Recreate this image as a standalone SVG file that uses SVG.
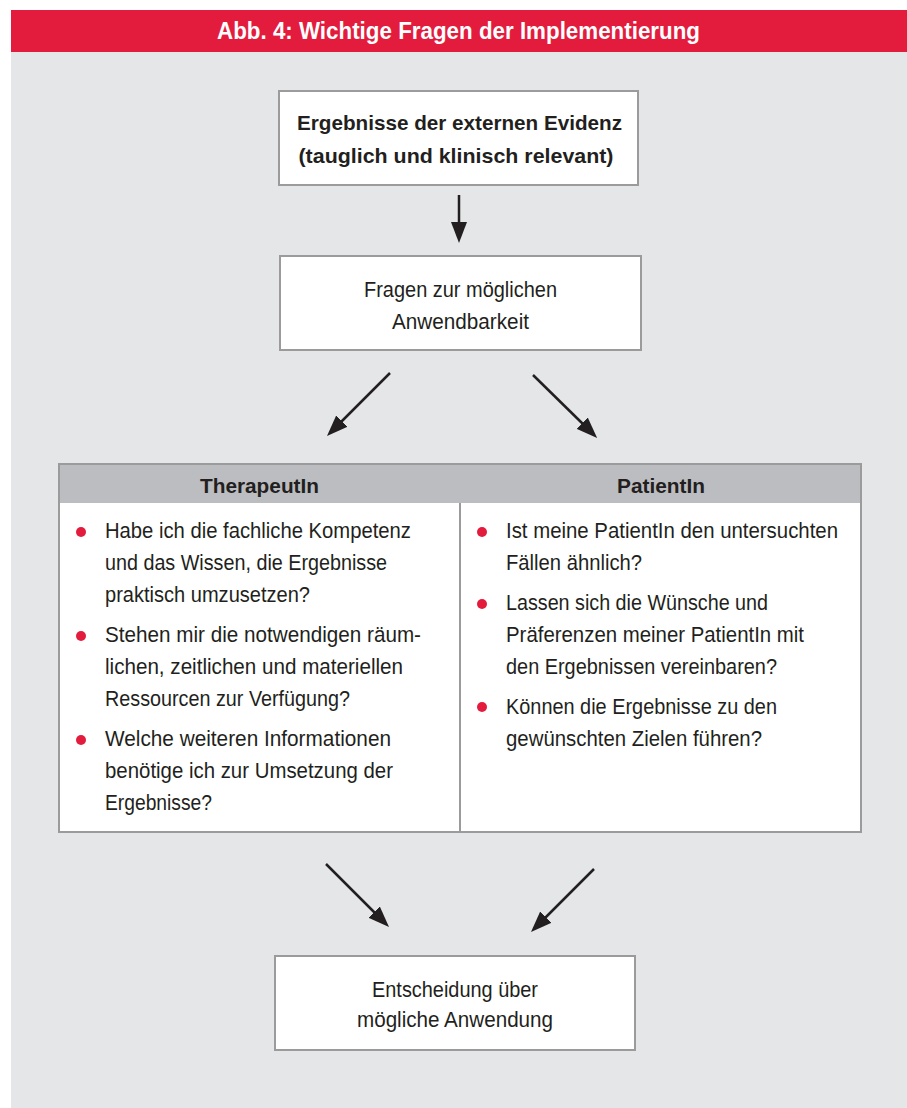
<svg xmlns="http://www.w3.org/2000/svg" width="907" height="1108" viewBox="0 0 907 1108">
  <style>
    text { font-family: "Liberation Sans", Arial, sans-serif; fill: #231f20; }
    .t { font-size: 22px; }
    .b { font-size: 21px; font-weight: bold; }
    .h { font-size: 21px; font-weight: bold; }
    .title { font-size: 23px; font-weight: bold; fill: #ffffff; }
    .box { fill: #ffffff; stroke: #9b9b9b; stroke-width: 2; }
    .dot { fill: #e31c3d; }
    .arr { stroke: #231f20; stroke-width: 2.5; fill: none; marker-end: url(#ah); }
  </style>
  <defs>
    <marker id="ah" markerUnits="userSpaceOnUse" markerWidth="21" markerHeight="16" refX="4" refY="8" orient="auto" viewBox="0 0 21 16">
      <path d="M0,0 L21,8 L0,16 z" fill="#231f20"/>
    </marker>
  </defs>

  <rect x="0" y="0" width="907" height="1108" fill="#ffffff"/>
  <rect x="11" y="52" width="896" height="1056" fill="#e5e6e8"/>

  <g id="title">
    <rect x="11" y="10" width="896" height="42" fill="#e31c3d"/>
    <text class="title" x="458.5" y="39" text-anchor="middle" textLength="483" lengthAdjust="spacingAndGlyphs">Abb. 4: Wichtige Fragen der Implementierung</text>
  </g>

  <g id="node-evidenz">
    <rect class="box" x="279" y="91" width="359" height="94"/>
    <text class="b" x="459.5" y="130" text-anchor="middle" textLength="325" lengthAdjust="spacingAndGlyphs">Ergebnisse der externen Evidenz</text>
    <text class="b" x="456" y="163" text-anchor="middle" textLength="315" lengthAdjust="spacingAndGlyphs">(tauglich und klinisch relevant)</text>
  </g>

  <g id="node-fragen">
    <rect class="box" x="280" y="256" width="361" height="94"/>
    <text class="t" x="460.5" y="297" text-anchor="middle" textLength="193" lengthAdjust="spacingAndGlyphs">Fragen zur möglichen</text>
    <text class="t" x="460.5" y="329" text-anchor="middle" textLength="137" lengthAdjust="spacingAndGlyphs">Anwendbarkeit</text>
  </g>

  <g id="node-table">
    <rect class="box" x="59" y="464" width="802" height="368"/>
    <rect x="60" y="465" width="800" height="38" fill="#bcbdc1"/>
    <line x1="460" y1="503" x2="460" y2="832" stroke="#9b9b9b" stroke-width="2"/>
    <text class="h" x="259.5" y="493" text-anchor="middle" textLength="119" lengthAdjust="spacingAndGlyphs">TherapeutIn</text>
    <text class="h" x="661" y="493" text-anchor="middle" textLength="88" lengthAdjust="spacingAndGlyphs">PatientIn</text>
  </g>

  <g id="node-therapeutin">
    <circle class="dot" cx="81" cy="532" r="5"/>
    <text class="t" x="105" y="538" textLength="306" lengthAdjust="spacingAndGlyphs">Habe ich die fachliche Kompetenz</text>
    <text class="t" x="105" y="570" textLength="282" lengthAdjust="spacingAndGlyphs">und das Wissen, die Ergebnisse</text>
    <text class="t" x="105" y="602" textLength="205" lengthAdjust="spacingAndGlyphs">praktisch umzusetzen?</text>
    <circle class="dot" cx="81" cy="636" r="5"/>
    <text class="t" x="105" y="642" textLength="316" lengthAdjust="spacingAndGlyphs">Stehen mir die notwendigen räum-</text>
    <text class="t" x="105" y="674" textLength="298" lengthAdjust="spacingAndGlyphs">lichen, zeitlichen und materiellen</text>
    <text class="t" x="105" y="706" textLength="245" lengthAdjust="spacingAndGlyphs">Ressourcen zur Verfügung?</text>
    <circle class="dot" cx="81" cy="740" r="5"/>
    <text class="t" x="105" y="746" textLength="286" lengthAdjust="spacingAndGlyphs">Welche weiteren Informationen</text>
    <text class="t" x="105" y="778" textLength="288" lengthAdjust="spacingAndGlyphs">benötige ich zur Umsetzung der</text>
    <text class="t" x="105" y="810" textLength="107" lengthAdjust="spacingAndGlyphs">Ergebnisse?</text>
  </g>

  <g id="node-patientin">
    <circle class="dot" cx="482" cy="532" r="5"/>
    <text class="t" x="506" y="538" textLength="332" lengthAdjust="spacingAndGlyphs">Ist meine PatientIn den untersuchten</text>
    <text class="t" x="506" y="570" textLength="136" lengthAdjust="spacingAndGlyphs">Fällen ähnlich?</text>
    <circle class="dot" cx="482" cy="604" r="5"/>
    <text class="t" x="506" y="610" textLength="262" lengthAdjust="spacingAndGlyphs">Lassen sich die Wünsche und</text>
    <text class="t" x="506" y="642" textLength="298" lengthAdjust="spacingAndGlyphs">Präferenzen meiner PatientIn mit</text>
    <text class="t" x="506" y="674" textLength="271" lengthAdjust="spacingAndGlyphs">den Ergebnissen vereinbaren?</text>
    <circle class="dot" cx="482" cy="707" r="5"/>
    <text class="t" x="506" y="714" textLength="271" lengthAdjust="spacingAndGlyphs">Können die Ergebnisse zu den</text>
    <text class="t" x="506" y="746" textLength="256" lengthAdjust="spacingAndGlyphs">gewünschten Zielen führen?</text>
  </g>

  <g id="node-entscheidung">
    <rect class="box" x="275" y="956" width="360" height="94"/>
    <text class="t" x="455" y="997" text-anchor="middle" textLength="166" lengthAdjust="spacingAndGlyphs">Entscheidung über</text>
    <text class="t" x="455" y="1027" text-anchor="middle" textLength="196" lengthAdjust="spacingAndGlyphs">mögliche Anwendung</text>
  </g>

  <g id="connectors">
    <line class="arr" x1="459" y1="195" x2="459" y2="226"/>
    <line class="arr" x1="390" y1="373" x2="339" y2="424"/>
    <line class="arr" x1="533" y1="375" x2="585" y2="426"/>
    <line class="arr" x1="326" y1="864" x2="377" y2="915"/>
    <line class="arr" x1="594" y1="869" x2="543" y2="920"/>
  </g>
</svg>
